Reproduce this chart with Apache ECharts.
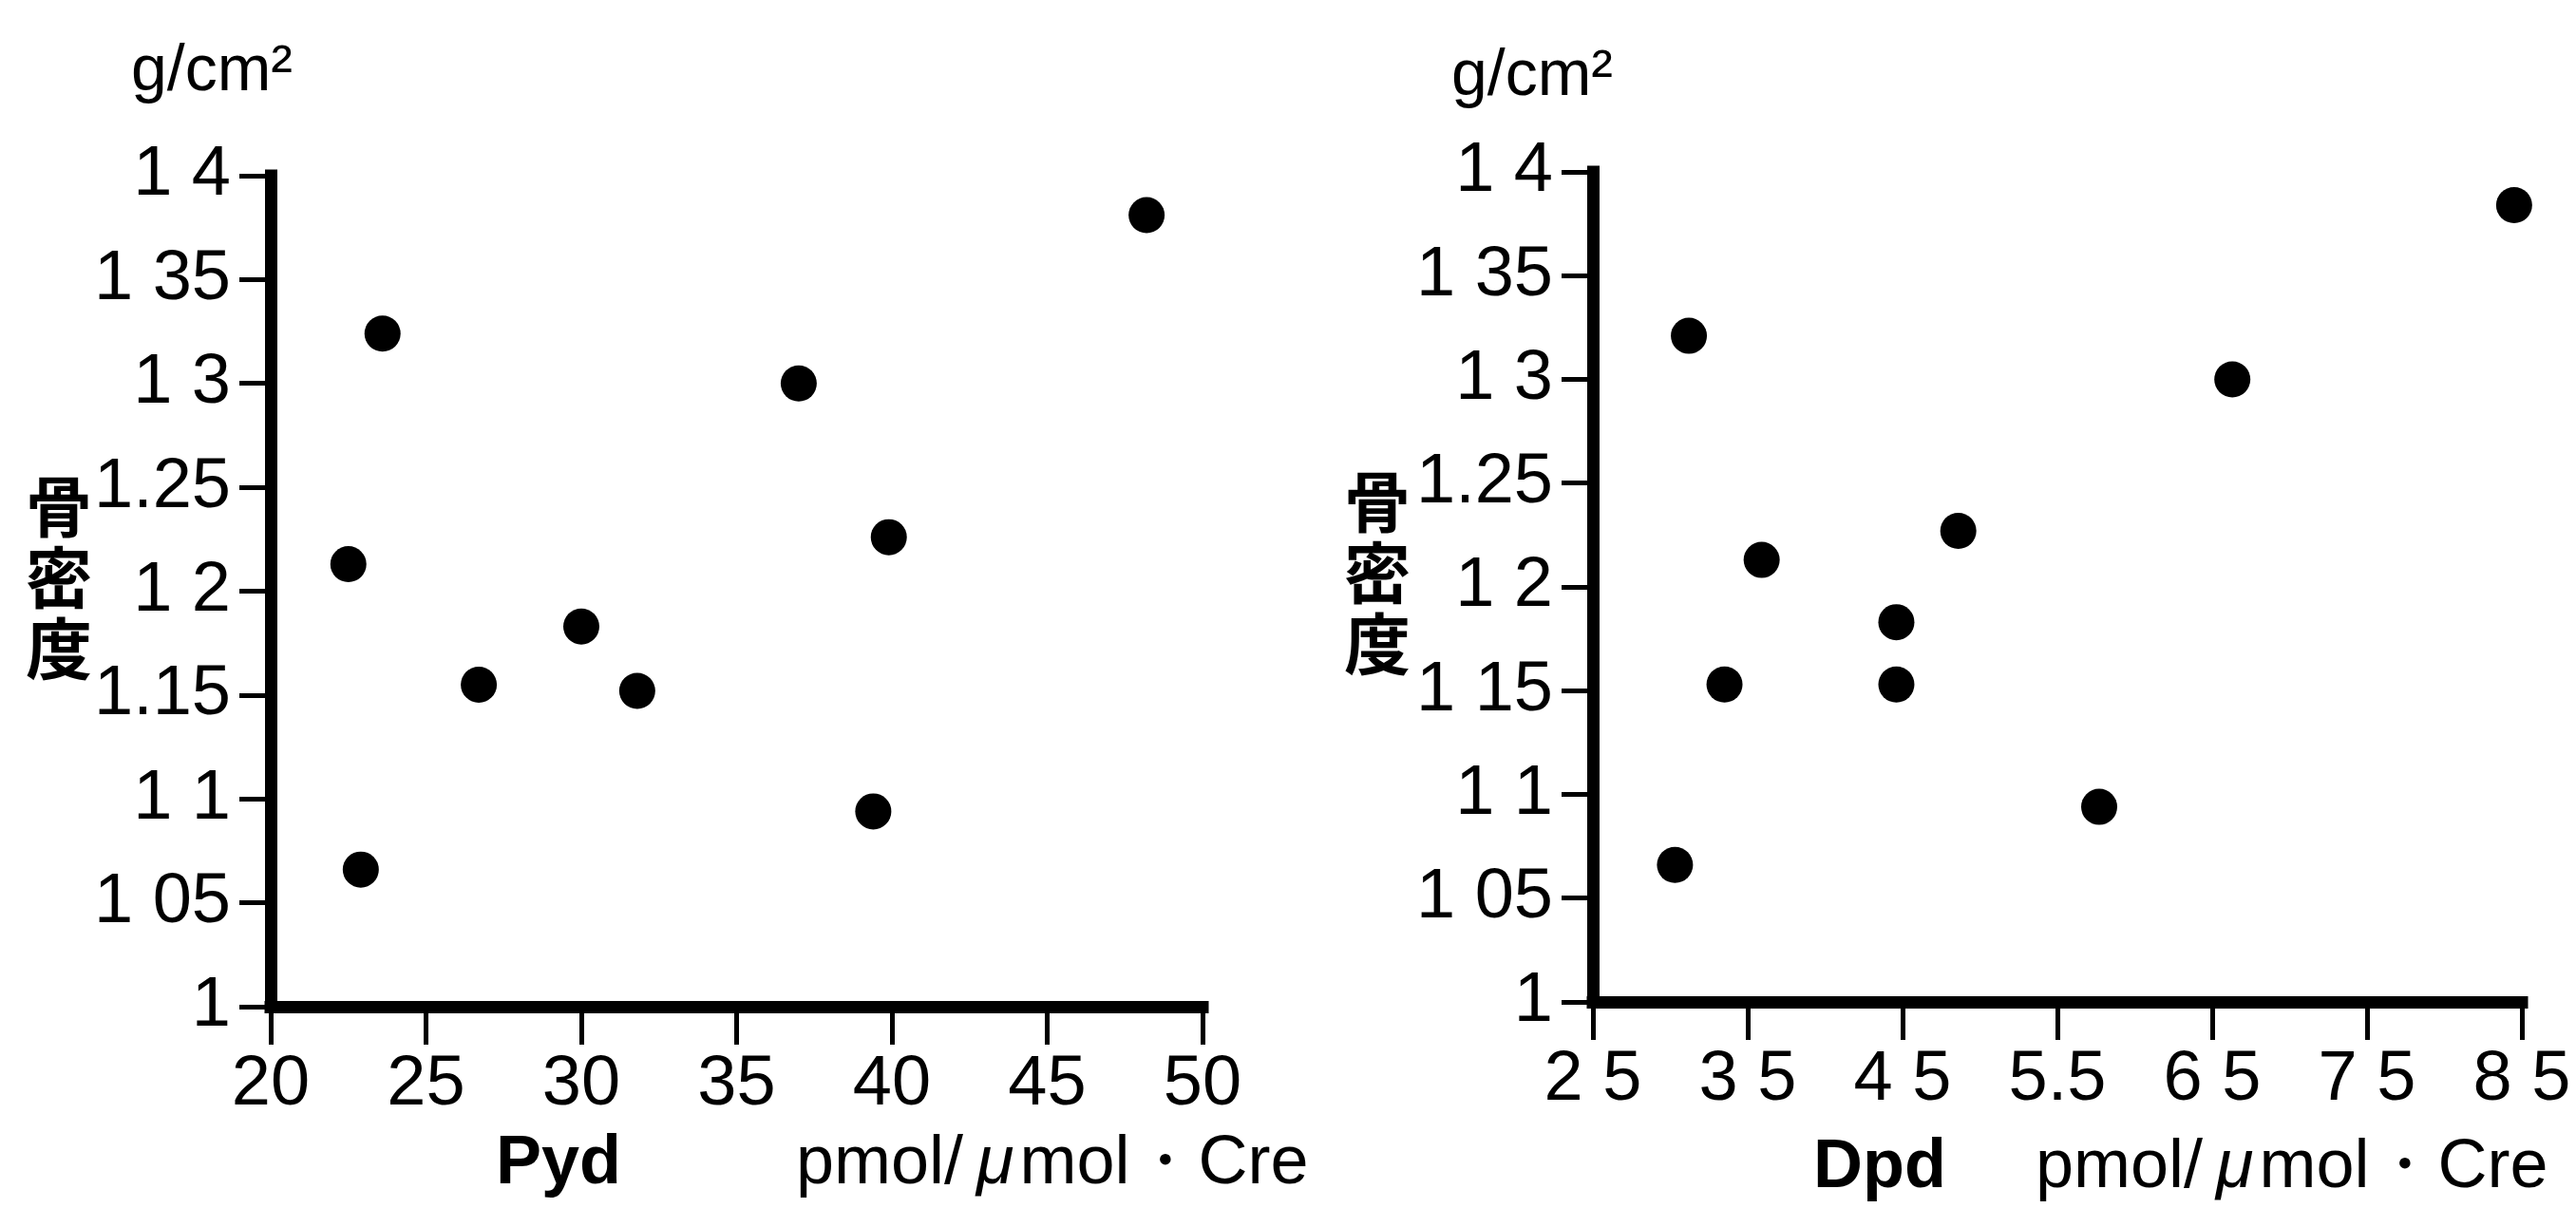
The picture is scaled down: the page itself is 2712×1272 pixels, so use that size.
<!DOCTYPE html>
<html>
<head>
<meta charset="utf-8">
<script src="https://cdn.jsdelivr.net/npm/echarts@6/dist/echarts.min.js"></script>
<style>
html,body{margin:0;padding:0;background:#fff;}
#chart{width:2712px;height:1272px;}
</style>
</head>
<body>
<div id="chart"></div>
<script>
// ---- data ----
const pydX = [48.2, 23.6, 37.0, 39.9, 22.5, 30.0, 26.7, 31.8, 39.4, 22.9];
const pydY = [1.381, 1.324, 1.300, 1.226, 1.213, 1.183, 1.155, 1.152, 1.094, 1.066];
const dpdX = [8.45, 3.12, 6.63, 4.86, 3.59, 4.46, 3.35, 4.46, 5.77, 3.03];
const dpdY = [1.384, 1.321, 1.300, 1.227, 1.213, 1.183, 1.153, 1.153, 1.094, 1.066];

// ---- ticks and tick labels ----
const bmdTicks = [1, 1.05, 1.1, 1.15, 1.2, 1.25, 1.3, 1.35, 1.4];
const bmdLabelsLeft = ["1", "1 05", "1 1", "1.15", "1 2", "1.25", "1 3", "1 35", "1 4"];
const bmdLabelsRight = ["1", "1 05", "1 1", "1 15", "1 2", "1.25", "1 3", "1 35", "1 4"];
const pydTicks = [20, 25, 30, 35, 40, 45, 50];
const pydLabels = ["20", "25", "30", "35", "40", "45", "50"];
const dpdTicks = [2.5, 3.5, 4.5, 5.5, 6.5, 7.5, 8.5];
const dpdLabels = ["2 5", "3 5", "4 5", "5.5", "6 5", "7 5", "8 5"];

// ---- texts ----
const unitY = "g/cm²";
const nameY = "骨\n密\n度";
const nameLeftX = "Pyd";
const nameRightX = "Dpd";
const unitX = "pmol/{mu|μ}mol・Cre";

function labelFor(ticks, labels) {
  return function (v) {
    let best = 0, bd = Infinity;
    for (let i = 0; i < ticks.length; i++) {
      const d = Math.abs(ticks[i] - v);
      if (d < bd) { bd = d; best = i; }
    }
    return labels[best];
  };
}

function axisCfg(kind, gridIndex, ticks, labels) {
  const isX = kind === 'x';
  return {
    type: 'value',
    gridIndex: gridIndex,
    min: ticks[0],
    max: ticks[ticks.length - 1],
    axisLine: { show: true, onZero: false, lineStyle: { color: '#000', width: 13, cap: 'square' } },
    axisTick: { show: true, length: isX ? 40 : 33, customValues: ticks, lineStyle: { color: '#000', width: 5 } },
    axisLabel: {
      show: true, customValues: ticks, margin: isX ? 46 : 42,
      fontSize: 74, fontFamily: 'Liberation Sans', color: '#000',
      formatter: labelFor(ticks, labels)
    },
    splitLine: { show: false }
  };
}

const TXT = { fontFamily: 'Liberation Sans', fill: '#000' };

function texts(o) {
  return [
    { type: 'text', x: o.gx, y: o.gy, style: Object.assign({}, TXT, { text: unitY, fontSize: 68, verticalAlign: 'middle', textVerticalAlign: 'middle' }) },
    { type: 'text', x: o.bx, y: o.by, style: { text: nameY, fontFamily: 'Noto Sans CJK JP', fontWeight: 'bold', fontSize: 70, lineHeight: 75, fill: '#000', align: 'center', textAlign: 'center', verticalAlign: 'middle', textVerticalAlign: 'middle' } },
    { type: 'text', x: o.nx, y: o.ny, style: Object.assign({}, TXT, { text: o.name, fontSize: 72, fontWeight: 'bold', verticalAlign: 'middle', textVerticalAlign: 'middle' }) },
    { type: 'text', x: o.ux, y: o.ny, style: Object.assign({}, TXT, {
        text: unitX, fontSize: 72, verticalAlign: 'middle', textVerticalAlign: 'middle',
        rich: { mu: { fontSize: 72, fontFamily: 'Liberation Sans', fontStyle: 'italic', padding: [0, 6, 0, 14], fill: '#000' } }
      }) }
  ];
}

const chart = echarts.init(document.getElementById('chart'), null, { renderer: 'canvas' });
chart.setOption({
  backgroundColor: '#fff',
  animation: false,
  grid: [
    { left: 285, top: 185, width: 981, height: 875 },
    { left: 1677, top: 181, width: 978, height: 874 }
  ],
  xAxis: [
    axisCfg('x', 0, pydTicks, pydLabels),
    axisCfg('x', 1, dpdTicks, dpdLabels)
  ],
  yAxis: [
    axisCfg('y', 0, bmdTicks, bmdLabelsLeft),
    axisCfg('y', 1, bmdTicks, bmdLabelsRight)
  ],
  series: [
    { type: 'scatter', xAxisIndex: 0, yAxisIndex: 0, symbolSize: 38, itemStyle: { color: '#000', opacity: 1 },
      data: pydX.map((x, i) => [x, pydY[i]]) },
    { type: 'scatter', xAxisIndex: 1, yAxisIndex: 1, symbolSize: 38, itemStyle: { color: '#000', opacity: 1 },
      data: dpdX.map((x, i) => [x, dpdY[i]]) }
  ],
  graphic: [].concat(
    texts({ gx: 138, gy: 76, bx: 62, by: 608, name: nameLeftX, nx: 522, ny: 1226, ux: 838 }),
    texts({ gx: 1528, gy: 81, bx: 1450, by: 603, name: nameRightX, nx: 1909, ny: 1230, ux: 2143 })
  )
});
</script>
</body>
</html>
